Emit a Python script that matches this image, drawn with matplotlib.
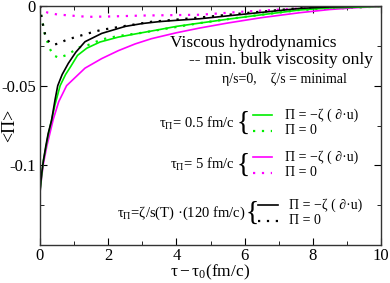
import numpy as np
import matplotlib
matplotlib.use('Agg')
import matplotlib.pyplot as plt
from matplotlib.lines import Line2D

plt.rcParams['font.family'] = ['Liberation Serif', 'DejaVu Serif']
plt.rcParams['mathtext.fontset'] = 'stix'
plt.rcParams['axes.unicode_minus'] = False

# tau_Pi = zeta/s(T) * 120 fm/c
x_black = [0, 0.05, 0.1, 0.17, 0.24, 0.34, 0.44, 0.52, 0.65, 0.83, 1.05, 1.32, 1.81, 2.5, 3.0,
           3.5, 4.0, 4.69, 5.5, 6.5, 7.62, 8.5, 10]
y_black = [-0.1157, -0.105, -0.097, -0.088, -0.080, -0.0717, -0.059, -0.050, -0.043, -0.036,
           -0.029, -0.0224, -0.0172, -0.0128, -0.0110, -0.0098, -0.0090, -0.0080, -0.0062,
           -0.0040, -0.0015, -0.0006, 0.0]
x_black_d = [0, 0.05, 0.16, 0.28, 0.4, 0.55, 0.75, 0.92, 1.41, 1.8, 2.5, 3.27, 4.69, 6, 7.62, 10]
y_black_d = [0, -0.008, -0.019, -0.023, -0.0243, -0.0235, -0.0215, -0.0203, -0.0172, -0.015,
             -0.0125, -0.0099, -0.0072, -0.0045, -0.0013, 0.0]

# tau_Pi = 0.5 fm/c
x_green = [0, 0.05, 0.1, 0.17, 0.24, 0.44, 0.59, 0.75, 0.9, 1.1, 1.37, 1.76, 2.3, 2.93, 3.5,
           4.0, 4.69, 5.5, 6.5, 7.62, 8.5, 10]
y_green = [-0.117, -0.106, -0.097, -0.089, -0.081, -0.062, -0.050, -0.043, -0.038, -0.031,
           -0.0265, -0.0226, -0.0195, -0.017, -0.0148, -0.0128, -0.0107, -0.0083, -0.0055,
           -0.0025, -0.0012, -0.0003]
x_green_d = [0, 0.04, 0.14, 0.28, 0.4, 0.55, 0.75, 0.92, 1.15, 1.41, 1.81, 2.3, 2.93, 4.69, 6, 7.62, 10]
y_green_d = [0, -0.0067, -0.0172, -0.0266, -0.031, -0.0325, -0.031, -0.029, -0.026, -0.0245,
             -0.021, -0.0188, -0.017, -0.0107, -0.0068, -0.0025, -0.0003]

# tau_Pi = 5 fm/c
x_mag = [0, 0.05, 0.1, 0.2, 0.39, 0.55, 0.78, 1.05, 1.32, 1.81, 2.3, 2.79, 3.27, 4.0, 4.69,
         5.5, 6.5, 7.62, 8.5, 9.3, 10]
y_mag = [-0.117, -0.107, -0.099, -0.088, -0.071, -0.060, -0.050, -0.0445, -0.039, -0.033,
         -0.028, -0.0238, -0.0205, -0.0168, -0.0138, -0.0107, -0.0073, -0.0042, -0.0022,
         -0.0010, -0.0004]
x_mag_d = [0, 0.1, 0.23, 0.5, 0.9, 1.4, 2, 3, 4.69, 6, 7.62, 9, 10]
y_mag_d = [0, -0.003, -0.0042, -0.0053, -0.006, -0.0068, -0.0066, -0.006, -0.0055, -0.0035,
           -0.0015, -0.0006, -0.0002]

xticks = [0, 2, 4, 6, 8, 10]
yticks = [0, -0.05, -0.1]
ytick_labels = ['0', '-0.05', '-0.1']

green = '#00ee00'
magenta = '#ff00ff'
dot = (0, (1, 3))

fig = plt.figure(figsize=(3.9, 2.83), dpi=100)
ax = fig.add_axes([40 / 390, 1 - 245 / 283, 341 / 390, 239 / 283])

ax.plot(x_mag_d, y_mag_d, color=magenta, lw=1.6, ls=dot)
ax.plot(x_green_d, y_green_d, color=green, lw=1.6, ls=dot)
ax.plot(x_black_d, y_black_d, color='black', lw=1.6, ls=dot)
ax.plot(x_mag, y_mag, color=magenta, lw=1.2)
ax.plot(x_green, y_green, color=green, lw=1.2)
ax.plot(x_black, y_black, color='black', lw=1.2)

ax.set_xlim(0, 10)
ax.set_ylim(-0.15, 0)
ax.set_xticks(xticks)
ax.set_xticks(np.arange(1, 10, 2), minor=True)
ax.set_yticks(yticks)
ax.set_yticklabels(ytick_labels)
ax.set_yticks([-0.025, -0.075, -0.125], minor=True)
ax.tick_params(which='both', direction='in', top=True, right=True, labelsize=12, pad=3)
ax.tick_params(axis='x', pad=2)
ax.tick_params(which='major', length=5)
ax.tick_params(which='minor', length=3)
for s in ax.spines.values():
    s.set_linewidth(1.0)
    s.set_color('#333333')

ax.set_xlabel(r'$\mathregular{τ−τ_0}$(fm/c)', fontsize=12.5)
ax.xaxis.set_label_coords(0.5, -0.076)
ax.set_ylabel('<Π>', fontsize=13)
ax.yaxis.set_label_coords(-0.063, 0.5)

tr = ax.transAxes
ax.text(0.381, 0.845, 'Viscous hydrodynamics', transform=tr, ha='left', va='center', fontsize=12.5)
ax.text(0.977, 0.775, '-- min. bulk viscosity only', transform=tr, ha='right', va='center', fontsize=12.5)
ax.text(0.90, 0.695, 'η/s=0,    ζ/s = minimal', transform=tr, ha='right', va='center', fontsize=10)

groups = [
    (r'$\mathregular{τ_Π}$= 0.5 fm/c', green, 0.572, 0.595, 0.510, 0.625, 0.680, 0.718),
    (r'$\mathregular{τ_Π}$= 5 fm/c', magenta, 0.572, 0.595, 0.335, 0.625, 0.680, 0.718),
    (r'$\mathregular{τ_Π}$=ζ/s(T) ·(120 fm/c)', 'black', 0.603, 0.623, 0.134, 0.638, 0.698, 0.730),
]
for label, col, lx, bx, cy, x0, x1, tx in groups:
    ax.text(lx, cy, label, transform=tr, ha='right', va='center', fontsize=10.5)
    ax.text(bx, cy, '{', transform=tr, ha='center', va='center', fontsize=20)
    ax.add_line(Line2D([x0, x1], [cy + 0.033, cy + 0.033], transform=tr, color=col, lw=1.2))
    ax.add_line(Line2D([x0, x1], [cy - 0.033, cy - 0.033], transform=tr, color=col, lw=1.6, ls=dot))
    ax.text(tx, cy + 0.033, 'Π = −ζ ( ∂·u)', transform=tr, ha='left', va='center', fontsize=10)
    ax.text(tx, cy - 0.033, 'Π = 0', transform=tr, ha='left', va='center', fontsize=10)

fig.savefig('out.png', dpi=100)
